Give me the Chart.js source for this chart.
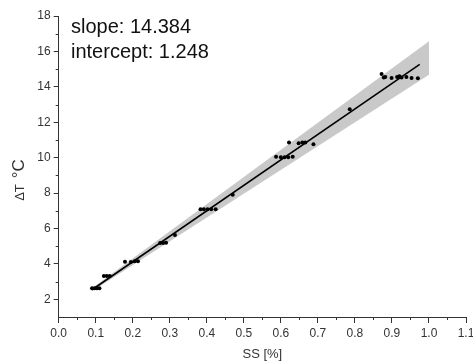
<!DOCTYPE html>
<html><head><meta charset="utf-8">
<script src="https://cdn.jsdelivr.net/npm/chart.js@4.4.0/dist/chart.umd.min.js"></script>
<style>html,body{margin:0;padding:0;background:#fff;}canvas{display:block}</style>
</head><body>
<canvas id="c" width="473" height="362"></canvas>
<script>
// ---- data ----
const ssValues = [0.090,0.097,0.103,0.110, 0.122,0.130,0.138, 0.179,0.195,0.205,0.214,
  0.274,0.282,0.290, 0.314, 0.383,0.392,0.402,0.412,0.424, 0.470,
  0.587,0.600,0.610,0.620,0.632, 0.622, 0.648,0.658,0.666, 0.688, 0.786,
  0.872,0.878,0.882,0.899,0.914,0.920,0.926,0.939,0.953,0.970];
const dtValues = [2.62,2.62,2.62,2.62, 3.32,3.32,3.32, 4.12,4.10,4.15,4.15,
  5.18,5.18,5.20, 5.63, 7.08,7.08,7.08,7.08,7.08, 7.90,
  10.05,10.02,10.02,10.02,10.05, 10.85, 10.82,10.85,10.85, 10.76, 12.73,
  14.72,14.52,14.55,14.50,14.55,14.60,14.52,14.55,14.50,14.48];
const fitX = [0.09, 0.975];
const fitY = [2.54, 15.27];
const bandX = [0.09, 1.0];
const bandUpper = [2.63, 16.58];
const bandLower = [2.46, 14.68];
const xTicks = [0,0.1,0.2,0.3,0.4,0.5,0.6,0.7,0.8,0.9,1.0,1.1];
const xMinorTicks = [0.05,0.15,0.25,0.35,0.45,0.55,0.65,0.75,0.85,0.95,1.05];
const yTicks = [2,4,6,8,10,12,14,16,18];
const yMinorTicks = [3,5,7,9,11,13,15,17];
const xTitle = 'SS [%]';
const yTitleParts = ['\u0394T', '\u00B0C'];
const annotationLines = ['slope: 14.384', 'intercept: 1.248'];

const FONT = "'Liberation Sans', Arial, sans-serif";
const AXIS = '#333333';

const pts = ssValues.map((x,i)=>({x, y: dtValues[i]}));
const fit = fitX.map((x,i)=>({x, y: fitY[i]}));
const up = bandX.map((x,i)=>({x, y: bandUpper[i]}));
const lo = bandX.map((x,i)=>({x, y: bandLower[i]}));

const extras = {
  id: 'extras',
  afterDraw(chart) {
    const ctx = chart.ctx;
    const xs = chart.scales.x, ys = chart.scales.y;
    const ca = chart.chartArea;
    ctx.save();
    ctx.strokeStyle = AXIS; ctx.lineWidth = 1;
    ctx.beginPath();
    xMinorTicks.forEach(v => { const p = Math.round(xs.getPixelForValue(v)) + 0.5; ctx.moveTo(p, ca.bottom); ctx.lineTo(p, ca.bottom + 3); });
    yMinorTicks.forEach(v => { const p = Math.round(ys.getPixelForValue(v)) + 0.5; ctx.moveTo(ca.left, p); ctx.lineTo(ca.left - 3, p); });
    ctx.stroke();
    // annotation
    ctx.fillStyle = '#111';
    ctx.font = '20px ' + FONT;
    ctx.textAlign = 'left'; ctx.textBaseline = 'alphabetic';
    ctx.fillText(annotationLines[0], 71, 33);
    ctx.fillText(annotationLines[1], 71, 58);
    // x title
    ctx.fillStyle = '#333';
    ctx.font = '13px ' + FONT;
    ctx.textAlign = 'center'; ctx.textBaseline = 'middle';
    ctx.fillText(xTitle, (ca.left + ca.right) / 2, 354);
    // y title (rotated)
    ctx.translate(19, 180);
    ctx.rotate(-Math.PI / 2);
    ctx.textBaseline = 'middle'; ctx.textAlign = 'left';
    ctx.font = '13px ' + FONT;
    const w1 = ctx.measureText(yTitleParts[0]).width;
    ctx.font = '17px ' + FONT;
    const w2 = ctx.measureText(yTitleParts[1]).width;
    const total = w1 + 6 + w2;
    let x0 = -total / 2;
    ctx.font = '13px ' + FONT;
    ctx.fillText(yTitleParts[0], x0, 1);
    ctx.font = '17px ' + FONT;
    ctx.fillText(yTitleParts[1], x0 + w1 + 6, 0);
    ctx.restore();
  }
};

new Chart(document.getElementById('c'), {
  type: 'scatter',
  data: { datasets: [
    { data: pts, backgroundColor: '#000', borderColor: '#000', pointRadius: 2, pointBorderWidth: 0, showLine: false },
    { data: fit, showLine: true, borderColor: '#000', borderWidth: 1.6, pointRadius: 0, fill: false },
    { data: lo, showLine: true, borderWidth: 0, borderColor: 'rgba(0,0,0,0)', pointRadius: 0, fill: false },
    { data: up, showLine: true, borderWidth: 0, borderColor: 'rgba(0,0,0,0)', pointRadius: 0, fill: 2, backgroundColor: '#c9c9c9' }
  ]},
  options: {
    responsive: false, animation: false, devicePixelRatio: 1,
    layout: { padding: { left: 0, top: 16, right: 7, bottom: 0 } },
    plugins: { legend: { display: false }, tooltip: { enabled: false } },
    scales: {
      x: {
        type: 'linear', min: 0, max: 1.1,
        afterBuildTicks: s => { s.ticks = xTicks.map(v => ({ value: v })); },
        afterFit: s => { s.height = 45; s.paddingLeft = 0; s.paddingRight = 0; },
        grid: { display: true, drawOnChartArea: false, drawTicks: true, tickLength: 6, color: AXIS, tickColor: AXIS },
        border: { display: true, color: AXIS, width: 1 },
        ticks: { color: '#333', font: { family: FONT, size: 12 }, padding: 3, maxRotation: 0, autoSkip: false,
          callback: v => Number(v).toFixed(1) }
      },
      y: {
        type: 'linear', min: 1, max: 18,
        afterBuildTicks: s => { s.ticks = yTicks.map(v => ({ value: v })); },
        afterFit: s => { s.width = 58.7; s.paddingTop = 0; s.paddingBottom = 0; },
        grid: { display: true, drawOnChartArea: false, drawTicks: true, tickLength: 5, color: AXIS, tickColor: AXIS },
        border: { display: true, color: AXIS, width: 1 },
        ticks: { color: '#333', font: { family: FONT, size: 12 }, padding: 3, autoSkip: false,
          callback: v => String(v) }
      }
    }
  },
  plugins: [extras]
});
</script>
</body></html>
